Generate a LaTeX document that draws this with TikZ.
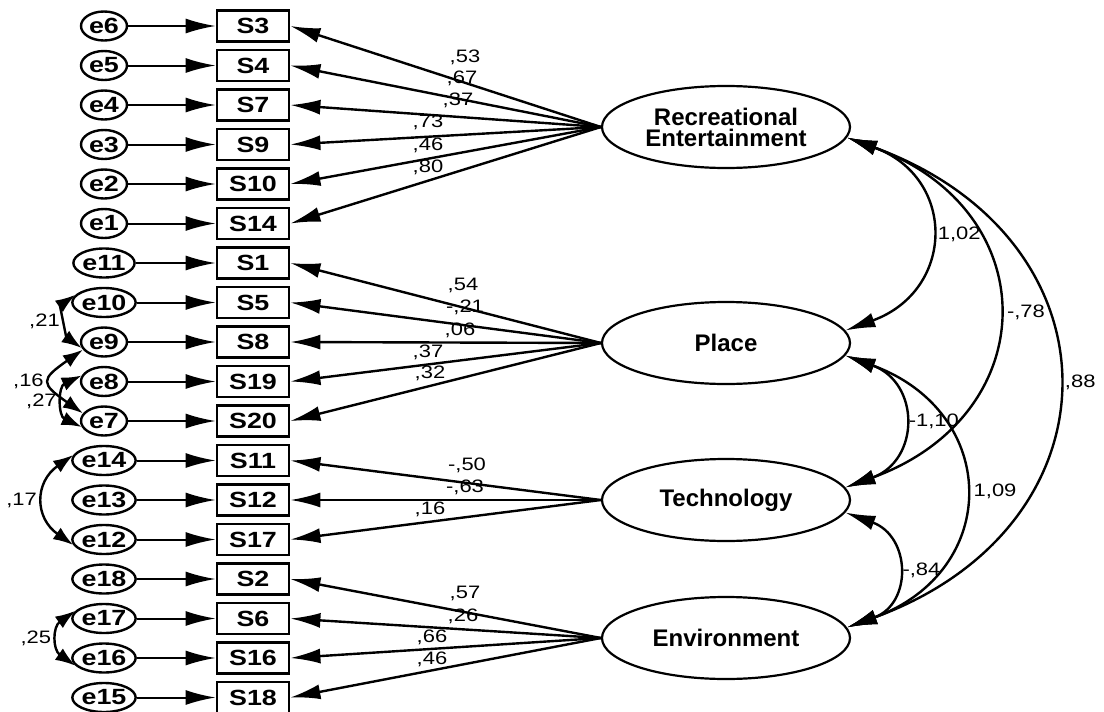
\documentclass[tikz,border=0pt]{standalone}
\usepackage{fontspec}
\setmainfont{Liberation Sans}
\newfontfamily\amos[FakeStretch=1.22]{Liberation Sans}
\usetikzlibrary{arrows.meta,shapes.geometric}
\tikzset{>={Latex[length=15pt,width=7.5pt]}}
\tikzset{
    obs/.style={draw, line width=1.4pt, minimum width=36pt, minimum height=15.5pt, inner sep=0pt, font=\amos\fontsize{11}{12}\selectfont\bfseries},
    err/.style={draw, ellipse, line width=1.2pt, minimum width=23pt, minimum height=14.5pt, inner sep=0pt, font=\amos\fontsize{11}{12}\selectfont\bfseries},
    lat/.style={draw, ellipse, line width=1.1pt, minimum width=124pt, minimum height=41pt, inner sep=0pt, align=center, font=\fontsize{12}{10.5}\selectfont\bfseries},
    regr/.style={->, line width=1pt},
    load/.style={->, line width=1.2pt},
    cov/.style={<->, line width=1.2pt, looseness=1.55},
    ecov/.style={{Latex[length=10pt,width=7pt]}-{Latex[length=10pt,width=7pt]}, line width=1.2pt},
    lbl/.style={inner sep=1pt, font=\amos\fontsize{9}{10}\selectfont},
}

\begin{document}
\begin{tikzpicture}[x=0.5pt, y=0.5pt]
    \useasboundingbox (0, 0) rectangle (1104, -712);
    % indicators
    \node[obs] (S3) at (253, -26) {S3};
    \node[obs] (S4) at (253, -65.5) {S4};
    \node[obs] (S7) at (253, -105) {S7};
    \node[obs] (S9) at (253, -144.5) {S9};
    \node[obs] (S10) at (253, -184) {S10};
    \node[obs] (S14) at (253, -223.5) {S14};
    \node[obs] (S1) at (253, -263) {S1};
    \node[obs] (S5) at (253, -302.5) {S5};
    \node[obs] (S8) at (253, -342) {S8};
    \node[obs] (S19) at (253, -381.5) {S19};
    \node[obs] (S20) at (253, -421) {S20};
    \node[obs] (S11) at (253, -460.5) {S11};
    \node[obs] (S12) at (253, -500) {S12};
    \node[obs] (S17) at (253, -539.5) {S17};
    \node[obs] (S2) at (253, -579) {S2};
    \node[obs] (S6) at (253, -618.5) {S6};
    \node[obs] (S16) at (253, -658) {S16};
    \node[obs] (S18) at (253, -697.5) {S18};
    % errors
    \node[err] (e6) at (104, -26) {e6};
    \node[err] (e5) at (104, -65.5) {e5};
    \node[err] (e4) at (104, -105) {e4};
    \node[err] (e3) at (104, -144.5) {e3};
    \node[err] (e2) at (104, -184) {e2};
    \node[err] (e1) at (104, -223.5) {e1};
    \node[err] (e11) at (104, -263) {e11};
    \node[err] (e10) at (104, -302.5) {e10};
    \node[err] (e9) at (104, -342) {e9};
    \node[err] (e8) at (104, -381.5) {e8};
    \node[err] (e7) at (104, -421) {e7};
    \node[err] (e14) at (104, -460.5) {e14};
    \node[err] (e13) at (104, -500) {e13};
    \node[err] (e12) at (104, -539.5) {e12};
    \node[err] (e18) at (104, -579) {e18};
    \node[err] (e17) at (104, -618.5) {e17};
    \node[err] (e16) at (104, -658) {e16};
    \node[err] (e15) at (104, -697.5) {e15};
    \foreach \e/\s in {e6/S3, e5/S4, e4/S7, e3/S9, e2/S10, e1/S14, e11/S1, e10/S5, e9/S8,
        e8/S19, e7/S20, e14/S11, e13/S12, e12/S17, e18/S2, e17/S6, e16/S16, e15/S18}
        \draw[regr] (\e) -- (\s);
    % factors
    \node[lat] (RE) at (726, -127) {Recreational\\Entertainment};
    \node[lat] (PL) at (726, -343) {Place};
    \node[lat] (TE) at (726, -500) {Technology};
    \node[lat] (EN) at (726, -638) {Environment};
    % loadings
    \foreach \s in {S3, S4, S7, S9, S10, S14}
        \draw[load] (RE.west) -- (\s.east);
    \foreach \s in {S1, S5, S8, S19, S20}
        \draw[load] (PL.west) -- (\s.east);
    \foreach \s in {S11, S12, S17}
        \draw[load] (TE.west) -- (\s.east);
    \foreach \s in {S2, S6, S16, S18}
        \draw[load] (EN.west) -- (\s.east);
    \node[lbl] (wS3) at (465, -57) {,53};
    \node[lbl] (wS4) at (462, -78) {,67};
    \node[lbl] (wS7) at (458, -100) {,37};
    \node[lbl] (wS9) at (428, -122) {,73};
    \node[lbl] (wS10) at (428, -145) {,46};
    \node[lbl] (wS14) at (428, -167) {,80};
    \node[lbl] (wS1) at (463, -285) {,54};
    \node[lbl] (wS5) at (465, -307) {-,21};
    \node[lbl] (wS8) at (460, -330) {,06};
    \node[lbl] (wS19) at (428, -352) {,37};
    \node[lbl] (wS20) at (430, -373) {,32};
    \node[lbl] (wS11) at (467, -465) {-,50};
    \node[lbl] (wS12) at (465, -487) {-,63};
    \node[lbl] (wS17) at (430, -509) {,16};
    \node[lbl] (wS2) at (465, -593) {,57};
    \node[lbl] (wS6) at (463, -616) {,26};
    \node[lbl] (wS16) at (432, -637) {,66};
    \node[lbl] (wS18) at (432, -659) {,46};
    % error covariances
    \draw[ecov] (e10.165) to[out=215, in=145, looseness=0.9] node[lbl, left=2pt] {,21} (e9.195);
    \draw[ecov] (e9.200) to[out=215, in=145, looseness=2.1] node[lbl, left=2pt] {,16} (e7.160);
    \draw[ecov] (e8.165) to[out=205, in=155, looseness=1.3] node[lbl, left=2pt] {,27} (e7.195);
    \draw[ecov] (e14.170) to[out=215, in=145, looseness=1.35] node[lbl, left=2pt] {,17} (e12.190);
    \draw[ecov] (e17.165) to[out=215, in=145, looseness=1.3] node[lbl, left=2pt] {,25} (e16.195);
    % factor covariances
    \draw[cov] (RE.-5) to[out=-20, in=20] node[lbl, right=3pt] {1,02} (PL.6);
    \draw[cov] (RE.-5) to[out=-20, in=20] node[lbl, right=4pt] {-,78} (TE.6);
    \draw[cov] (RE.-5) to[out=-20, in=20] node[lbl, right=3pt] {,88} (EN.5);
    \draw[cov] (PL.-6) to[out=-20, in=20] node[lbl, right=2pt] {-1,10} (TE.6);
    \draw[cov] (PL.-6) to[out=-20, in=20] node[lbl, right=4pt] {1,09} (EN.5);
    \draw[cov] (TE.-6) to[out=-20, in=20] node[lbl, right=2pt] {-,84} (EN.5);
\end{tikzpicture}
\end{document}
